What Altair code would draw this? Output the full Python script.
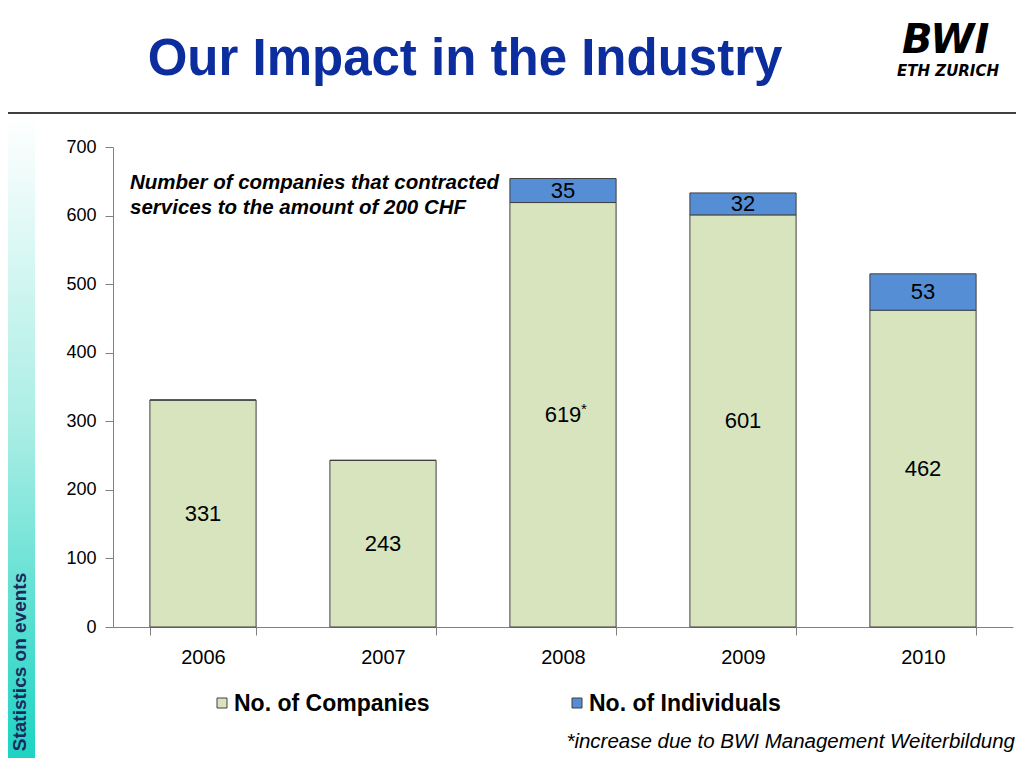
import altair as alt
import pandas as pd

# values
years = ["2006", "2007", "2008", "2009", "2010"]
companies = [331, 243, 619, 601, 462]
individuals = [0, 0, 35, 32, 53]
series = ["No. of Companies", "No. of Individuals"]
colors = ["#D7E4BD", "#558ED5"]

rows = []
for yr, c, i in zip(years, companies, individuals):
    rows.append({"year": yr, "series": series[0], "value": c, "order": 0, "mid": c / 2})
    rows.append({"year": yr, "series": series[1], "value": i, "order": 1, "mid": c + i / 2})
df = pd.DataFrame(rows)

FONT = "Liberation Sans"
one = pd.DataFrame({"a": [0]})

x_enc = alt.X(
    "year:N", title=None, sort=years,
    scale=alt.Scale(paddingInner=0.41, paddingOuter=0.205),
    axis=alt.Axis(labelAngle=0, tickBand="extent", tickSize=8, labelPadding=12,
                  labelFontSize=20, labelColor="black", domainColor="#808080",
                  tickColor="#808080"),
)

bars = alt.Chart(df).mark_bar(stroke="#404040", strokeWidth=1).encode(
    x=x_enc,
    y=alt.Y("value:Q", stack="zero", title=None,
            scale=alt.Scale(domain=[0, 700]),
            axis=alt.Axis(values=[0, 100, 200, 300, 400, 500, 600, 700], grid=False,
                          tickSize=8, labelPadding=9, labelFontSize=18, labelColor="black",
                          domainColor="#808080", tickColor="#808080")),
    color=alt.Color("series:N", scale=alt.Scale(domain=series, range=colors), legend=None),
    order=alt.Order("order:Q"),
)

labels = alt.Chart(df).transform_filter(alt.datum.value > 0).mark_text(
    font=FONT, fontSize=22, color="black", baseline="middle"
).encode(
    x=alt.X("year:N", sort=years),
    y=alt.Y("mid:Q"),
    text=alt.Text("value:Q"),
)

asterisk = alt.Chart(one).mark_text(font=FONT, fontSize=15, text="*").encode(
    x=alt.value(471), y=alt.value(262)
)

note = alt.Chart(one).mark_text(
    font=FONT, fontSize=20.5, fontWeight="bold", fontStyle="italic", align="left",
    lineHeight=25,
    text=["Number of companies that contracted", "services to the amount of 200 CHF"],
).encode(x=alt.value(17), y=alt.value(36))

title = alt.Chart(one).mark_text(
    font=FONT, fontSize=51, fontWeight="bold", color="#0B2D9E", align="center",
    text="Our Impact in the Industry",
).encode(x=alt.value(352), y=alt.value(-87))

rule = alt.Chart(one).mark_rule(color="#404040", strokeWidth=2).encode(
    x=alt.value(-105), x2=alt.value(903), y=alt.value(-34)
)

strip = alt.Chart(one).mark_rect(
    color=alt.Gradient(
        gradient="linear", x1=0, x2=0, y1=0, y2=1,
        stops=[alt.GradientStop(color="#FFFFFF", offset=0),
               alt.GradientStop(color="#A6EDE4", offset=0.5),
               alt.GradientStop(color="#1DD3C2", offset=1)],
    )
).encode(x=alt.value(-105), x2=alt.value(-78), y=alt.value(-32), y2=alt.value(611))

side = alt.Chart(one).mark_text(
    font=FONT, fontSize=19, fontWeight="bold", color="#1B2A5E", angle=270,
    align="center", baseline="middle", text="Statistics on events",
).encode(x=alt.value(-93), y=alt.value(515))

logo1 = alt.Chart(one).mark_text(
    font="DejaVu Sans", fontSize=40, fontWeight="bold", fontStyle="italic",
    align="left", baseline="alphabetic", text="BWI",
).encode(x=alt.value(789), y=alt.value(-94))

logo2 = alt.Chart(one).mark_text(
    font="DejaVu Sans", fontSize=15, fontWeight="bold", fontStyle="italic",
    align="left", baseline="alphabetic", text="ETH ZURICH",
).encode(x=alt.value(784), y=alt.value(-71))

# legend drawn by hand, as on the slide
leg_df = pd.DataFrame({"series": series, "x": [104, 459], "tx": [121, 476]})
leg_box = alt.Chart(leg_df).mark_rect(stroke="#404040", strokeWidth=1).encode(
    x=alt.X("x:Q", scale=None), x2=alt.X2("x2:Q"),
    y=alt.value(551), y2=alt.value(561),
    color=alt.Color("series:N", scale=alt.Scale(domain=series, range=colors), legend=None),
).transform_calculate(x2="datum.x + 10")
leg_txt = alt.Chart(leg_df).mark_text(
    font=FONT, fontSize=23, fontWeight="bold", align="left", baseline="alphabetic"
).encode(x=alt.X("tx:Q", scale=None), y=alt.value(564), text="series:N")

foot = alt.Chart(one).mark_text(
    font=FONT, fontSize=20.5, fontStyle="italic", align="right",
    text="*increase due to BWI Management  Weiterbildung",
).encode(x=alt.value(902), y=alt.value(595))

chart = alt.layer(
    strip, rule, title, logo1, logo2, side, bars, labels, asterisk, note,
    leg_box, leg_txt, foot,
).properties(
    width=900, height=480,
    autosize=alt.AutoSizeParams(type="none"),
    padding={"left": 105, "top": 139, "right": 3, "bottom": 131},
).configure(font=FONT).configure_view(stroke=None)

chart.save("out.html", embed_options={"renderer": "svg", "actions": False})
